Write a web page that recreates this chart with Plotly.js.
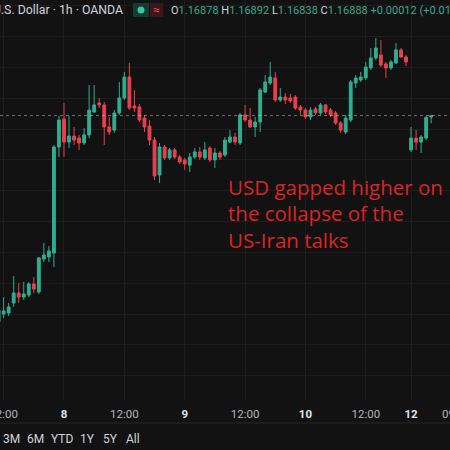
<!DOCTYPE html>
<html><head><meta charset="utf-8">
<script src="https://cdn.plot.ly/plotly-3.0.1.min.js"></script>
<style>
html,body{margin:0;padding:0;background:#121212;overflow:hidden;width:450px;height:450px;}
#chart{position:absolute;left:0;top:0;width:500px;height:450px;}
</style></head><body><div id="chart"></div>
<script>
// ---- data ----
const symbolName = 'Euro / U.S. Dollar';
const interval = '1h';
const broker = 'OANDA';
const bar = [0,1,2,3,4,5,6,7,8,9,10,11,12,13,14,15,16,17,18,19,20,21,22,23,24,25,26,27,28,29,
  30,31,32,33,34,35,36,37,38,39,40,41,42,43,44,45,46,47,48,49,50,51,52,53,54,55,56,57,58,59,
  60,61,62,63,64,65,66,67,68,69,70,71,72,73,74,75,76,77,78,79,80,81,82,83,84,85,86];
const openP = [1.15548,1.15600,1.15607,1.15672,1.15736,1.15710,1.15723,1.15795,1.15743,1.15957,
  1.15970,1.15996,1.16684,1.16866,1.16716,1.16755,1.16742,1.16710,1.16762,1.16911,
  1.16970,1.16957,1.16814,1.16794,1.16905,1.17002,1.17138,1.16950,1.16944,1.16872,
  1.16820,1.16729,1.16502,1.16684,1.16613,1.16665,1.16619,1.16600,1.16567,1.16619,
  1.16652,1.16613,1.16677,1.16600,1.16645,1.16632,1.16716,1.16749,1.16710,1.16892,
  1.16859,1.16814,1.16846,1.17041,1.17099,1.17132,1.16989,1.17008,1.17002,1.17008,
  1.16944,1.16924,1.16879,1.16931,1.16905,1.16957,1.16924,1.16905,1.16840,1.16781,
  1.16859,1.17099,1.17119,1.17132,1.17197,1.17262,1.17281,1.17223,1.17197,1.17229,
  1.17314,1.17268,1.16665,1.16742,1.16716,1.16742,1.16878];
const highP = [1.15639,1.15710,1.15672,1.15847,1.15801,1.15808,1.15808,1.15840,1.15970,1.16061,
  1.16041,1.16697,1.16885,1.16970,1.16885,1.16814,1.16762,1.16807,1.17086,1.17086,
  1.17002,1.16976,1.16879,1.16924,1.17106,1.17171,1.17229,1.17054,1.16963,1.16892,
  1.16859,1.16749,1.16710,1.16697,1.16677,1.16677,1.16632,1.16613,1.16645,1.16677,
  1.16684,1.16716,1.16690,1.16677,1.16658,1.16749,1.16794,1.16775,1.16905,1.16957,
  1.16937,1.16879,1.17067,1.17151,1.17236,1.17171,1.17067,1.17034,1.17028,1.17021,
  1.16957,1.16937,1.16944,1.16944,1.16970,1.16963,1.16937,1.16918,1.16853,1.16892,
  1.17119,1.17151,1.17171,1.17236,1.17326,1.17391,1.17378,1.17236,1.17249,1.17359,
  1.17326,1.17281,1.16814,1.16794,1.16762,1.16885,1.16892];
const lowP = [1.15522,1.15574,1.15587,1.15646,1.15672,1.15691,1.15710,1.15736,1.15730,1.15938,
  1.15938,1.15905,1.16619,1.16619,1.16677,1.16697,1.16665,1.16697,1.16742,1.16905,
  1.16937,1.16697,1.16762,1.16775,1.16892,1.16989,1.16924,1.16911,1.16846,1.16781,
  1.16697,1.16470,1.16450,1.16600,1.16600,1.16606,1.16574,1.16535,1.16522,1.16606,
  1.16600,1.16600,1.16587,1.16548,1.16600,1.16619,1.16710,1.16697,1.16697,1.16846,
  1.16807,1.16749,1.16781,1.17034,1.17086,1.16976,1.16976,1.16963,1.16970,1.16924,
  1.16892,1.16866,1.16859,1.16892,1.16892,1.16898,1.16879,1.16827,1.16775,1.16768,
  1.16846,1.17067,1.17106,1.17119,1.17184,1.17249,1.17203,1.17132,1.17184,1.17223,
  1.17262,1.17210,1.16652,1.16665,1.16645,1.16729,1.16838];
const closeP = [1.15626,1.15620,1.15646,1.15736,1.15710,1.15730,1.15795,1.15762,1.15964,1.15983,
  1.16009,1.16684,1.16859,1.16716,1.16755,1.16729,1.16710,1.16762,1.16924,1.16957,
  1.16957,1.16814,1.16781,1.16905,1.17002,1.17138,1.16937,1.16937,1.16859,1.16814,
  1.16729,1.16496,1.16684,1.16613,1.16665,1.16619,1.16587,1.16574,1.16619,1.16652,
  1.16619,1.16665,1.16600,1.16645,1.16619,1.16729,1.16749,1.16716,1.16892,1.16859,
  1.16814,1.16846,1.17054,1.17106,1.17138,1.16989,1.17008,1.16989,1.16983,1.16937,
  1.16924,1.16879,1.16924,1.16905,1.16957,1.16911,1.16892,1.16840,1.16794,1.16872,
  1.17106,1.17132,1.17138,1.17203,1.17262,1.17326,1.17216,1.17197,1.17236,1.17314,
  1.17268,1.17236,1.16742,1.16716,1.16749,1.16876,1.16888];
const tickBars = [1,13,25,37,49,61,73,82,91];
const tickLabels = ['12:00','8','12:00','9','12:00','10','12:00','12','09:00'];
const dayTicks = ['8','9','10','12'];
const rangeButtons = ['3M','6M','YTD','1Y','5Y','All'];
const noteLines = ['USD gapped higher on','the collapse of the','US-Iran talks'];

// ---- style ----
const BG = '#121212', GRID = '#1d1d1d';
const UP = '#2fae91', DOWN = '#e8414d';
const UI_FONT = 'Roboto, "Open Sans", sans-serif';
const W = 500, PH = 400; // plot width / height in px
const px = (x) => x / W;            // px -> paper x
const py = (y) => 1 - y / PH;       // px -> paper y

const n = closeP.length;
const last = n - 1;
const chg = closeP[last] - closeP[last - 1];
const chgPct = chg / closeP[last - 1] * 100;
const valColor = chg >= 0 ? '#3aa88e' : DOWN;
const lbl = (s) => `<span style="color:#d1d4dc">${s}</span>`;
const val = (s) => `<span style="color:${valColor}">${s}</span>`;
const ohlcText = lbl('O') + val(openP[last].toFixed(5)) + ' ' +
  lbl('H') + val(highP[last].toFixed(5)) + ' ' +
  lbl('L') + val(lowP[last].toFixed(5)) + ' ' +
  lbl('C') + val(closeP[last].toFixed(5)) + ' ' +
  val((chg >= 0 ? '+' : '') + chg.toFixed(5) + ' (' + (chg >= 0 ? '+' : '') + chgPct.toFixed(2) + '%)');

const tickText = tickLabels.map(t => dayTicks.includes(t)
  ? `<b><span style="color:#e0e3eb">${t}</span></b>` : t);

const trace = {
  type: 'candlestick', x: bar, open: openP, high: highP, low: lowP, close: closeP,
  increasing: {line: {color: UP, width: 1}, fillcolor: UP},
  decreasing: {line: {color: DOWN, width: 1}, fillcolor: DOWN},
  whiskerwidth: 0, hoverinfo: 'skip', showlegend: false
};

const barPx = 5.03, x0 = 0.278;
const yTop = 1.17638, pricePerPx = 0.0000649;

const annotations = [
  {xref:'paper', yref:'paper', x: px(125), y: py(10), xanchor:'right', yanchor:'middle', showarrow:false,
   text: `${symbolName} · ${interval} · ${broker}`, font:{family: UI_FONT, size: 12.3, color:'#d1d4dc'}},
  {xref:'paper', yref:'paper', x: px(156.5), y: py(10), xanchor:'center', yanchor:'middle', showarrow:false,
   text: '≈', font:{family: UI_FONT, size: 12, color:'#e0405a'}},
  {xref:'paper', yref:'paper', x: px(169), y: py(10.5), xanchor:'left', yanchor:'middle', showarrow:false,
   text: ohlcText, font:{family: UI_FONT, size: 11, color:'#d1d4dc'}}
];
const btnX = [11.5, 35, 62, 87.5, 110.5, 132.5];
rangeButtons.forEach((b, i) => annotations.push({xref:'paper', yref:'paper', x: px(btnX[i]), y: py(439),
  xanchor:'center', yanchor:'middle', showarrow:false, text: b, font:{family: UI_FONT, size: 12, color:'#d1d4dc'}}));
const noteY = [187, 213.5, 240];
noteLines.forEach((t, i) => annotations.push({xref:'paper', yref:'paper', x: px(226), y: py(noteY[i]),
  xanchor:'left', yanchor:'middle', showarrow:false, text: t,
  font:{family:'"Open Sans", Lato, sans-serif', size: 20.5, color:'#dc2424'}}));

const shapes = [
  {type:'line', xref:'paper', yref:'y', x0:0, x1:1, y0: closeP[last], y1: closeP[last],
   line:{color:'rgba(190,190,190,0.55)', width:1, dash:'dot'}},
  {type:'line', xref:'paper', yref:'paper', x0:0, x1:1, y0: py(423), y1: py(423),
   line:{color:'#262626', width:1}},
  {type:'rect', xref:'paper', yref:'paper', x0: px(133), x1: px(149), y0: py(17), y1: py(3),
   fillcolor:'#163a31', line:{width:0}},
  {type:'circle', xref:'paper', yref:'paper', x0: px(137.5), x1: px(144.5), y0: py(13.5), y1: py(6.5),
   fillcolor:'#3ec5a0', line:{width:0}},
  {type:'rect', xref:'paper', yref:'paper', x0: px(150), x1: px(163), y0: py(17), y1: py(3),
   fillcolor:'#3a161d', line:{width:0}}
];

const layout = {
  width: W, height: 450,
  margin: {l:0, r:0, t:0, b:50, pad:0},
  paper_bgcolor: BG, plot_bgcolor: BG,
  showlegend: false, dragmode: false,
  boxgap: 0.2, boxgroupgap: 0.3,
  xaxis: {
    range: [x0, x0 + W / barPx], tickmode:'array', tickvals: tickBars, ticktext: tickText,
    showgrid: true, gridcolor: GRID, gridwidth: 1, zeroline: false, showline: false, ticks: '',
    tickfont: {family: UI_FONT, size: 11.5, color: '#b2b5be'},
    rangeslider: {visible: false}, ticklabeloverflow: 'allow', ticklabelstandoff: 5, fixedrange: true
  },
  yaxis: {
    range: [yTop - PH * pricePerPx, yTop], dtick: 0.002, tick0: 0, showticklabels: false,
    showgrid: true, gridcolor: GRID, zeroline: false, showline: false, ticks: '', fixedrange: true
  },
  annotations: annotations, shapes: shapes
};

Plotly.newPlot('chart', [trace], layout, {staticPlot: true, displayModeBar: false});
</script></body></html>
